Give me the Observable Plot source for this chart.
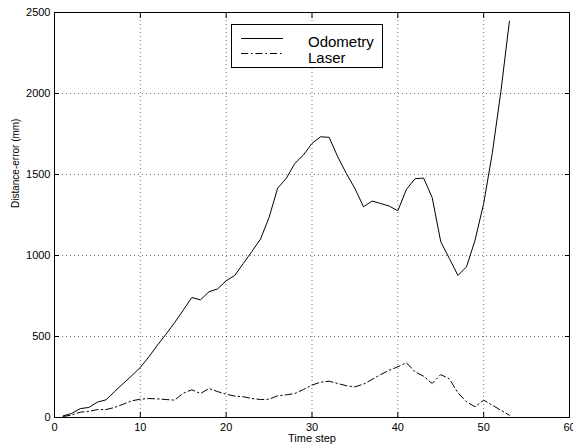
<!DOCTYPE html>
<html><head><meta charset="utf-8">
<script src="https://cdn.jsdelivr.net/npm/d3@7"></script>
<script src="https://cdn.jsdelivr.net/npm/@observablehq/plot@0.6"></script>
<style>body{margin:0;background:#fff} #chart{width:573px;height:448px}</style>
</head><body><div id="chart"></div>
<script>
const timeSteps = d3.range(1, 54);
const odometry = [10,25,55,62,95,109,160,210,258,309,375,447,515,586,663,741,726,776,794,844,877,951,1025,1101,1235,1416,1476,1568,1620,1692,1733,1729,1609,1506,1414,1301,1336,1321,1305,1276,1408,1474,1478,1358,1085,982,877,930,1095,1321,1630,2010,2446];
const laser = [6,15,33,37,49,49,62,82,103,113,117,115,111,107,150,171,148,179,160,144,132,128,117,111,113,134,140,148,173,200,218,224,210,196,189,206,235,265,292,313,338,282,255,210,265,239,152,97,66,107,76,45,14];
const xTicks = [0,10,20,30,40,50,60];
const yTicks = [0,500,1000,1500,2000,2500];
const seriesNames = ["Odometry", "Laser"];
const xLabel = "Time step";
const yLabel = "Distance-error (mm)";

const odoData = timeSteps.map((t, i) => ({t, v: odometry[i]}));
const laserData = timeSteps.map((t, i) => ({t, v: laser[i]}));

const laserDash = "7,3,1.5,3";
const gridStyle = {stroke: "#000", strokeOpacity: 0.55, strokeDasharray: "1,3"};
const font = "'Liberation Sans', Arial, Helvetica, sans-serif";
const plain = d => String(d);

const svg = Plot.plot({
  width: 573,
  height: 448,
  marginLeft: 54,
  marginRight: 4,
  marginTop: 12,
  marginBottom: 31,
  style: {fontFamily: font, fontSize: "11px", background: "#fff", color: "#000"},
  x: {domain: [0, 60]},
  y: {domain: [0, 2500]},
  marks: [
    Plot.gridX(xTicks, gridStyle),
    Plot.gridY(yTicks, gridStyle),
    Plot.line(odoData, {x: "t", y: "v", stroke: "#000", strokeWidth: 1}),
    Plot.line(laserData, {x: "t", y: "v", stroke: "#000", strokeWidth: 1, strokeDasharray: laserDash}),
    Plot.frame({stroke: "#000", strokeWidth: 1}),
    Plot.axisX(xTicks, {anchor: "bottom", tickSize: -5, tickPadding: 11, tickFormat: plain, label: null, fontSize: 11}),
    Plot.axisX(xTicks, {anchor: "top", tickSize: -5, fill: "none", label: null}),
    Plot.axisY(yTicks, {anchor: "left", tickSize: -5, tickPadding: 9, tickFormat: plain, label: null, fontSize: 11}),
    Plot.axisY(yTicks, {anchor: "right", tickSize: -5, fill: "none", label: null}),
    Plot.text([xLabel], {frameAnchor: "bottom", dy: 24.5, fontSize: 11, fill: "#000"}),
    Plot.text([yLabel], {frameAnchor: "left", dx: -39, dy: -7, rotate: -90, fontSize: 10, fill: "#000"})
  ]
});
document.getElementById("chart").appendChild(svg);

// Legend box inside the plot area
const s = d3.select(svg);
const lg = s.append("g").attr("class", "legend").attr("font-family", font).attr("text-anchor", "start");
lg.append("rect").attr("x", 231.5).attr("y", 24.5).attr("width", 151).attr("height", 43)
  .attr("fill", "#fff").attr("stroke", "#000").attr("stroke-width", 1);
const styles = [null, laserDash];
seriesNames.forEach((name, i) => {
  const y = 38.5 + i * 15;
  const ln = lg.append("line").attr("x1", 241).attr("x2", 283).attr("y1", y).attr("y2", y)
    .attr("stroke", "#000").attr("stroke-width", 1);
  if (styles[i]) ln.attr("stroke-dasharray", styles[i]);
  lg.append("text").attr("x", 308).attr("y", 47 + i * 16).attr("font-size", 15)
    .attr("text-anchor", "start").attr("fill", "#000").text(name);
});
</script>
</body></html>
